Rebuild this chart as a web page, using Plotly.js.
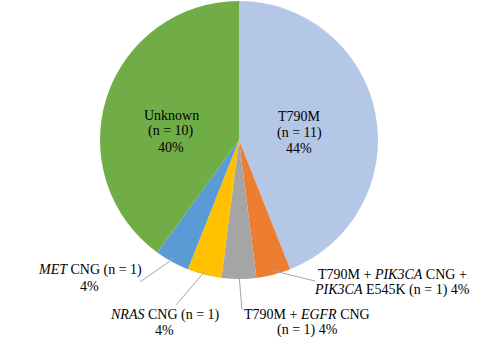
<!DOCTYPE html>
<html>
<head>
<meta charset="utf-8">
<script src="https://cdn.plot.ly/plotly-3.0.1.min.js"></script>
<style>html,body{margin:0;padding:0;background:#fff;}#chart{width:480px;height:363px;}</style>
</head>
<body>
<div id="chart"></div>
<script>
// ---- data ----
const categories = ['T790M', 'T790M + <i>PIK3CA</i> CNG + <i>PIK3CA</i> E545K', 'T790M + <i>EGFR</i> CNG', '<i>NRAS</i> CNG', '<i>MET</i> CNG', 'Unknown'];
const counts = [11, 1, 1, 1, 1, 10];
const labelTemplates = [
  'T790M<br>(n = {n})<br>{p}',
  'T790M + <i>PIK3CA</i> CNG +<br><i>PIK3CA</i> E545K (n = {n}) {p}',
  'T790M + <i>EGFR</i> CNG<br>(n = {n}) {p}',
  '<i>NRAS</i> CNG (n = {n})<br>{p}',
  '<i>MET</i> CNG (n = {n})<br>{p}',
  'Unknown<br>(n = {n})<br>{p}'
];
const colors = ['#b4c7e7', '#ed7d31', '#a5a5a5', '#ffc000', '#5b9bd5', '#70ad47'];

// ---- layout config (pixels) ----
const W = 480, H = 363;
const cx = 239, cy = 140, R = 139;
const lineGap = 16;
const labelPos = [[299, 132.5], [392, 282], [307, 322], [164.5, 322.5], [89.5, 278], [171, 131]];
const leaderEnd = [null, [315, 281], [242, 310], [176, 305], [140, 282], null];

const total = counts.reduce((a, b) => a + b, 0);
const px = x => x / W, py = y => 1 - y / H;

const annotations = [];
const shapes = [];
let cum = 0;
counts.forEach((c, i) => {
  const mid = (cum + c / 2) / total * 2 * Math.PI;
  cum += c;
  const pct = Math.round(100 * c / total) + '%';
  const lines = labelTemplates[i].replace('{n}', c).replace('{p}', pct).split('<br>');
  lines.forEach((ln, k) => {
    const y = labelPos[i][1] + (k - (lines.length - 1) / 2) * lineGap;
    annotations.push({
      x: px(labelPos[i][0]), y: py(y), xref: 'paper', yref: 'paper',
      text: ln, showarrow: false, xanchor: 'center', yanchor: 'middle', align: 'center',
      font: {family: 'Liberation Serif', size: 14, color: '#000'}
    });
  });
  if (leaderEnd[i]) {
    const sx = cx + 0.97 * R * Math.sin(mid), sy = cy - 0.97 * R * Math.cos(mid);
    shapes.push({type: 'line', xref: 'paper', yref: 'paper',
      x0: px(sx), y0: py(sy), x1: px(leaderEnd[i][0]), y1: py(leaderEnd[i][1]),
      line: {color: '#a6a6a6', width: 1}});
  }
});

const trace = {
  type: 'pie', labels: categories, values: counts, sort: false, direction: 'clockwise', rotation: 0,
  marker: {colors: colors, line: {width: 0}}, textinfo: 'none', hoverinfo: 'label+value+percent',
  domain: {x: [(cx - R) / W, (cx + R) / W], y: [1 - (cy + R) / H, 1 - (cy - R) / H]},
  showlegend: false
};

Plotly.newPlot('chart', [trace], {
  width: W, height: H, margin: {l: 0, r: 0, t: 0, b: 0},
  paper_bgcolor: '#fff', plot_bgcolor: '#fff', showlegend: false,
  annotations: annotations, shapes: shapes
}, {displayModeBar: false, staticPlot: true});
</script>
</body>
</html>
